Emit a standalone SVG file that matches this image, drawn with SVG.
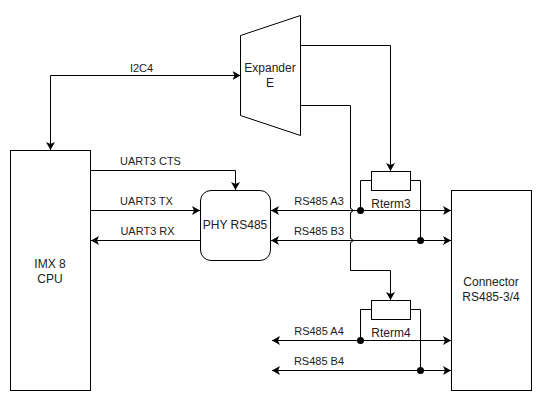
<svg xmlns="http://www.w3.org/2000/svg" width="540" height="400" viewBox="0 0 540 400">
<style>
.s{fill:#fff;stroke:#000;stroke-width:1}
.c{fill:none;stroke:#000;stroke-width:1}
text{font-family:"Liberation Sans",Arial,sans-serif;font-size:12px;fill:#222;text-anchor:middle}
#labels text{font-size:11px}
</style>
<defs>
<marker id="a" markerUnits="userSpaceOnUse" markerWidth="10" markerHeight="10" refX="8" refY="4.5" orient="auto-start-reverse"><path d="M0 0L8 4.5L0 9L2 4.5Z" fill="#000"/></marker>
</defs>
<rect width="540" height="400" fill="#fff"/>
<g id="connectors">
<path class="c" d="M240.500 75.500H50.500V150" marker-start="url(#a)" marker-end="url(#a)"/>
<path class="c" d="M90.500 170.500H235.500V190" marker-end="url(#a)"/>
<path class="c" d="M90.500 210.500H200" marker-end="url(#a)"/>
<path class="c" d="M200.500 240.500H91" marker-end="url(#a)"/>
<path class="c" d="M300.500 45.500H390.500V171" marker-end="url(#a)"/>
<path class="c" d="M300.500 105.500H350.500V208.500A2 2 0 0 1 350.500 212.500V238.500A2 2 0 0 1 350.500 242.500V270.500H390.500V300" marker-end="url(#a)"/>
<path class="c" d="M271 210.500H451" marker-start="url(#a)" marker-end="url(#a)"/>
<path class="c" d="M271 240.500H451" marker-start="url(#a)" marker-end="url(#a)"/>
<path class="c" d="M272 340.500H451" marker-start="url(#a)" marker-end="url(#a)"/>
<path class="c" d="M272 370.500H451" marker-start="url(#a)" marker-end="url(#a)"/>
<path class="c" d="M371 180.500H360.500V210.500M410 180.500H420.500V240.500"/>
<path class="c" d="M371 309.500H360.500V340.500M410 309.500H420.500V370.500"/>
<circle cx="360.500" cy="210.500" r="3.500"/>
<circle cx="420.500" cy="240.500" r="3.500"/>
<circle cx="360.500" cy="340.500" r="3.500"/>
<circle cx="420.500" cy="370.500" r="3.500"/>
</g>
<g id="imx8"><rect class="s" x="10.500" y="150.500" width="80" height="240"/><text x="50" y="268">IMX 8</text><text x="50" y="283">CPU</text></g>
<g id="expander"><path class="s" d="M240.500 35.500L300.500 15.500V135.500L240.500 115.500Z"/><text x="270" y="72">Expander</text><text x="270" y="87">E</text></g>
<g id="phy"><rect class="s" x="200.500" y="190.500" width="70" height="70" rx="10.500"/><text x="235" y="229">PHY RS485</text></g>
<g id="connector"><rect class="s" x="451.500" y="190.500" width="80" height="200"/><text x="491" y="286">Connector</text><text x="491" y="301">RS485-3/4</text></g>
<g id="rterm3"><rect class="s" x="371.500" y="171.500" width="39" height="19"/><text x="391" y="208">Rterm3</text></g>
<g id="rterm4"><rect class="s" x="371.500" y="300.500" width="39" height="19"/><text x="391" y="337">Rterm4</text></g>
<g id="labels">
<text x="141.500" y="72">I2C4</text>
<text x="150.500" y="165">UART3 CTS</text>
<text x="146.500" y="205">UART3 TX</text>
<text x="147.500" y="235">UART3 RX</text>
<text x="319" y="205">RS485 A3</text>
<text x="319" y="235">RS485 B3</text>
<text x="319" y="335">RS485 A4</text>
<text x="319" y="365">RS485 B4</text>
</g>
</svg>
